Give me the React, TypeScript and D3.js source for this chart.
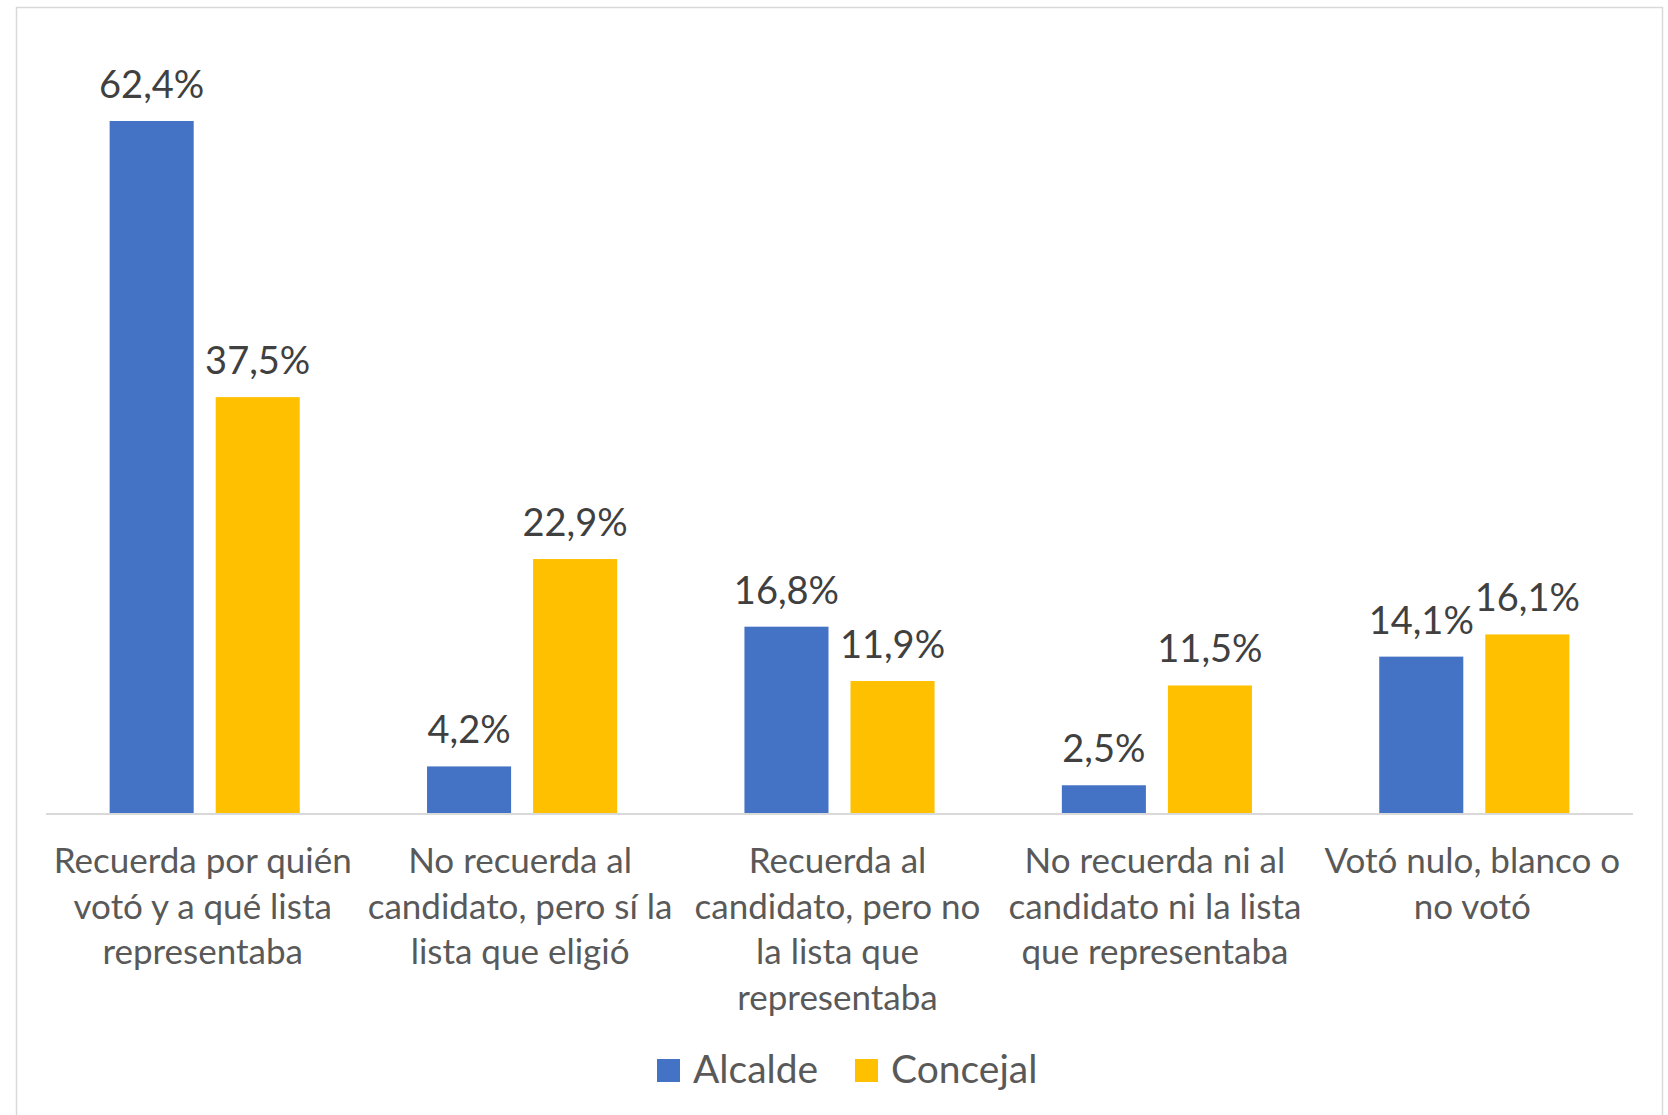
import React, { useEffect, useRef } from 'react';
import * as d3 from 'd3';

const categories = [
  ['Recuerda por quién', 'votó y a qué lista', 'representaba'],
  ['No recuerda al', 'candidato, pero sí la', 'lista que eligió'],
  ['Recuerda al', 'candidato, pero no', 'la lista que', 'representaba'],
  ['No recuerda ni al', 'candidato ni la lista', 'que representaba'],
  ['Votó nulo, blanco o', 'no votó'],
];
const seriesNames = ['Alcalde', 'Concejal'];
const alcalde = [62.4, 4.2, 16.8, 2.5, 14.1];
const concejal = [37.5, 22.9, 11.9, 11.5, 16.1];

const W = 1668;
const H = 1115;
const colors = { Alcalde: '#4472C4', Concejal: '#FFC000' };
const font = 'Lato, sans-serif';

export default function App() {
  const ref = useRef<SVGSVGElement>(null);

  useEffect(() => {
    const svg = d3.select(ref.current);
    svg.selectAll('*').remove();

    const left = 46;
    const right = 1633;
    const axisY = 813;

    // chart area border
    svg
      .append('rect')
      .attr('x', 16.5)
      .attr('y', 7.5)
      .attr('width', 1662 - 16)
      .attr('height', H + 20)
      .attr('fill', 'white')
      .attr('stroke', '#D9D9D9')
      .attr('stroke-width', 1.5);

    const keys = categories.map((c, i) => String(i));
    const x0 = d3.scaleBand().domain(keys).range([left, right]);
    const x1 = d3
      .scaleBand()
      .domain(seriesNames)
      .range([0, x0.bandwidth()])
      .paddingInner(0.2075)
      .paddingOuter(0.6);
    const y = d3.scaleLinear().domain([0, 70]).range([axisY, axisY - 70 * 11.09]);

    const rows = keys.map((k, i) => ({
      key: k,
      values: [
        { name: 'Alcalde', value: alcalde[i] },
        { name: 'Concejal', value: concejal[i] },
      ],
    }));

    const groups = svg
      .selectAll('g.cat')
      .data(rows)
      .enter()
      .append('g')
      .attr('class', 'cat')
      .attr('transform', d => `translate(${x0(d.key)},0)`);

    groups
      .selectAll('rect')
      .data(d => d.values)
      .enter()
      .append('rect')
      .attr('x', d => x1(d.name)!)
      .attr('y', d => y(d.value))
      .attr('width', x1.bandwidth())
      .attr('height', d => axisY - y(d.value))
      .attr('fill', d => colors[d.name as keyof typeof colors]);

    groups
      .selectAll('text.val')
      .data(d => d.values)
      .enter()
      .append('text')
      .attr('class', 'val')
      .attr('x', d => x1(d.name)! + x1.bandwidth() / 2)
      .attr('y', d => y(d.value) - 23)
      .attr('text-anchor', 'middle')
      .style('font-family', font)
      .style('font-size', '38px')
      .style('fill', '#404040')
      .text(d => d.value.toFixed(1).replace('.', ',') + '%');

    svg
      .append('line')
      .attr('x1', left)
      .attr('x2', right)
      .attr('y1', axisY + 1)
      .attr('y2', axisY + 1)
      .attr('stroke', '#D9D9D9')
      .attr('stroke-width', 2);

    const labels = svg
      .selectAll('text.cat')
      .data(categories)
      .enter()
      .append('text')
      .attr('class', 'cat')
      .attr('text-anchor', 'middle')
      .style('font-family', font)
      .style('font-size', '35px')
      .style('fill', '#595959');

    labels
      .selectAll('tspan')
      .data((d, i) => d.map(line => ({ line, i })))
      .enter()
      .append('tspan')
      .attr('x', d => x0(String(d.i))! + x0.bandwidth() / 2 - 2)
      .attr('y', (d, j) => 873 + j * 45.5)
      .text(d => d.line);

    const legend = svg
      .selectAll('g.leg')
      .data(seriesNames)
      .enter()
      .append('g')
      .attr('class', 'leg')
      .attr('transform', (d, i) => `translate(${i === 0 ? 657 : 855},1059)`);

    legend
      .append('rect')
      .attr('width', 23)
      .attr('height', 23)
      .attr('fill', d => colors[d as keyof typeof colors]);

    legend
      .append('text')
      .attr('x', 36)
      .attr('y', 24)
      .style('font-family', font)
      .style('font-size', '39px')
      .style('fill', '#595959')
      .text(d => d);
  }, []);

  return (
    <svg
      ref={ref}
      width={W}
      height={H}
      style={{ position: 'absolute', left: 0, top: 0, background: 'white' }}
    />
  );
}
